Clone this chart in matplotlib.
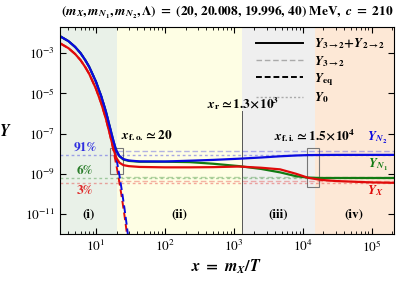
import numpy as np
import matplotlib

matplotlib.use("Agg")
import matplotlib.pyplot as plt
from matplotlib.lines import Line2D
from matplotlib.patches import Rectangle

plt.rcParams["mathtext.fontset"] = "cm"
plt.rcParams["font.family"] = "STIXGeneral"

# early-time x grid (equilibrium part), log10 of Y
x_eq = [3, 4, 5, 6, 7, 8, 10, 12, 14, 16, 18, 20, 22, 24, 26, 28, 30]
logY_eq_N2 = [-2.15, -2.40, -2.69, -3.00, -3.34, -3.68, -4.41, -5.16, -5.92,
              -6.71, -7.50, -8.30, -9.10, -9.92, -10.73, -11.55, -12.38]
logY_eq_X = [-2.50, -2.75, -3.04, -3.35, -3.69, -4.03, -4.76, -5.51, -6.27,
             -7.06, -7.85, -8.65, -9.45, -10.27, -11.08, -11.90, -12.73]

# full solutions
x_sol = [3, 4, 5, 6, 7, 8, 10, 12, 14, 16, 17, 18, 19, 20, 22, 25, 30, 43,
         100, 230, 500, 1200, 2500, 4700, 8000, 1.2e4, 1.8e4, 3e4, 1e5, 2.1e5]
logY_N2 = [-2.15, -2.40, -2.69, -3.00, -3.34, -3.68, -4.41, -5.16, -5.92,
           -6.70, -7.05, -7.38, -7.66, -7.88, -8.12, -8.27, -8.34, -8.385,
           -8.39, -8.35, -8.31, -8.25, -8.19, -8.13, -8.09, -8.07, -8.065,
           -8.06, -8.06, -8.06]
logY_X = [-2.50, -2.75, -3.04, -3.35, -3.69, -4.03, -4.76, -5.51, -6.27,
          -7.05, -7.42, -7.76, -8.04, -8.24, -8.45, -8.57, -8.62, -8.66,
          -8.68, -8.68, -8.67, -8.64, -8.70, -8.78, -9.00, -9.20, -9.30,
          -9.36, -9.43, -9.45]
logY_N1 = [-2.15, -2.40, -2.69, -3.00, -3.34, -3.68, -4.41, -5.16, -5.92,
           -6.70, -7.05, -7.38, -7.66, -7.88, -8.13, -8.29, -8.36, -8.40,
           -8.40, -8.42, -8.50, -8.62, -8.76, -8.93, -9.12, -9.19, -9.21,
           -9.21, -9.21, -9.21]

# asymptotic levels
logY32 = {"N2": -7.85, "N1": -9.15, "X": -9.35}
logY0 = {"N2": -8.05, "N1": -9.20, "X": -9.475}

x_fo, x_r, x_fi = 20, 1.3e3, 1.5e4
x_min, x_max = 3, 2.1e5

BLUE, RED, GREEN = "#0a0ae0", "#e00a0a", "#127a12"


def main():
    fig = plt.figure(figsize=(3.99, 2.82), dpi=100)
    ax = fig.add_axes([0.150, 0.170, 0.837, 0.734])

    # shaded regions
    ax.axvspan(x_min, x_fo, color="#e9f1e8", lw=0)
    ax.axvspan(x_fo, x_r, color="#fefee4", lw=0)
    ax.axvspan(x_r, x_fi, color="#efefef", lw=0)
    ax.axvspan(x_fi, x_max, color="#fde8d6", lw=0)
    ax.plot([x_r, x_r], [1e-12, 10 ** -5.9], color="#555555", lw=0.7)

    # Y0 (dotted) and Y_3->2 (dashed) levels
    for key, c in (("N2", BLUE), ("N1", GREEN), ("X", RED)):
        ax.plot([x_min, x_max], [10 ** logY0[key]] * 2, color=c, alpha=0.35,
                lw=1.0, ls=(0, (2, 2)))
        ax.plot([x_fo, x_max], [10 ** logY32[key]] * 2, color=c, alpha=0.3,
                lw=1.0, ls=(0, (4, 2)))

    # equilibrium
    ax.plot(x_eq, 10 ** np.array(logY_eq_X), color=RED, lw=1.4, ls=(0, (4, 2)))
    ax.plot(x_eq, 10 ** np.array(logY_eq_N2), color=BLUE, lw=1.4, ls=(0, (4, 2)))

    # full solutions
    ax.plot(x_sol, 10 ** np.array(logY_N1), color=GREEN, lw=1.6)
    ax.plot(x_sol, 10 ** np.array(logY_X), color=RED, lw=1.6)
    ax.plot(x_sol, 10 ** np.array(logY_N2), color=BLUE, lw=1.6)

    ax.add_patch(Rectangle((16, 1e-9), 8.5, 1.9e-8, fill=False,
                           ec="#777777", lw=0.8))
    ax.add_patch(Rectangle((1.15e4, 2.2e-10), 0.6e4, 2e-8 - 2.2e-10,
                           fill=False, ec="#777777", lw=0.8))

    ax.set_xscale("log")
    ax.set_yscale("log")
    ax.set_xlim(x_min, x_max)
    ax.set_ylim(1e-12, 10 ** -1.7)
    ax.set_yticks([1e-3, 1e-5, 1e-7, 1e-9, 1e-11])
    ax.yaxis.set_minor_locator(matplotlib.ticker.NullLocator())
    ax.tick_params(which="both", direction="in", top=True, right=True,
                   labelsize=9.5)
    ax.tick_params(which="major", length=4)
    ax.tick_params(which="minor", length=2)

    st = dict(math_fontfamily="stix")
    ax.set_xlabel(r"$\mathbfit{x}\ \mathbf{=}\ \mathbfit{m}_{\mathbfit{X}}\mathbf{/}\mathbfit{T}$",
                  fontsize=11.5, labelpad=2, **st)
    ax.set_ylabel(r"$\mathbfit{Y}$", fontsize=11.5, rotation=0, labelpad=14,
                  va="center", **st)
    ax.set_title(r"$\mathbf{(}\mathbfit{m}_{\mathbfit{X}}\mathbf{,}\,\mathbfit{m}_{\mathbfit{N}_\mathbf{1}}\mathbf{,}\,"
                 r"\mathbfit{m}_{\mathbfit{N}_\mathbf{2}}\mathbf{,}\,\mathbf{\Lambda)}\ \mathbf{=}\ "
                 r"\mathbf{(20,\,20.008,\,19.996,\,40)\ MeV,}\ \mathbfit{c}\ \mathbf{=}\ \mathbf{210}$",
                 fontsize=9.6, pad=8, **st)

    bold = dict(fontsize=9.5, fontweight="bold", ha="center", va="center")
    ax.text(6.9, 10 ** -7.7, "91%", color="#3030e0", **bold)
    ax.text(6.9, 10 ** -8.85, "6%", color="#2a7d2a", **bold)
    ax.text(6.9, 10 ** -9.85, "3%", color="#e02a2a", **bold)
    for xt, lab in ((7.7, "(i)"), (160, "(ii)"), (4.4e3, "(iii)"), (5.6e4, "(iv)")):
        ax.text(xt, 10 ** -11.05, lab, **bold)

    math = dict(fontsize=9.5, ha="center", va="center", **st)
    ax.text(55, 10 ** -7.1, r"$\mathbfit{x}_{\mathbf{f.o.}}\mathbf{\simeq 20}$", **math)
    ax.text(1.35e3, 10 ** -5.5, r"$\mathbfit{x}_{\mathbf{r}}\mathbf{\simeq 1.3\!\times\!10^3}$", **math)
    ax.text(1.5e4, 10 ** -7.1, r"$\mathbfit{x}_{\mathbf{f.i.}}\mathbf{\simeq 1.5\!\times\!10^4}$", **math)
    ax.text(1.2e5, 10 ** -7.2, r"$\mathbfit{Y}_{\mathbfit{N}_\mathbf{2}}$", color=BLUE, **math)
    ax.text(1.25e5, 10 ** -8.55, r"$\mathbfit{Y}_{\mathbfit{N}_\mathbf{1}}$", color=GREEN, **math)
    ax.text(1.15e5, 10 ** -9.85, r"$\mathbfit{Y}_{\mathbfit{X}}$", color=RED, **math)

    handles = [
        Line2D([], [], color="black", lw=1.4),
        Line2D([], [], color="#aaaaaa", lw=1.0, ls=(0, (4, 2))),
        Line2D([], [], color="black", lw=1.4, ls=(0, (3, 1.5))),
        Line2D([], [], color="#aaaaaa", lw=1.0, ls=(0, (1.5, 1.5))),
    ]
    labels = [
        r"$\mathbfit{Y}_{\mathbf{3\rightarrow2}}\mathbf{+}\mathbfit{Y}_{\mathbf{2\rightarrow2}}$",
        r"$\mathbfit{Y}_{\mathbf{3\rightarrow2}}$",
        r"$\mathbfit{Y}_{\mathbf{eq}}$",
        r"$\mathbfit{Y}_{\mathbf{0}}$",
    ]
    leg = ax.legend(handles, labels, loc="upper right", frameon=False,
                    fontsize=9.5, handlelength=3.6, labelspacing=0.2,
                    borderaxespad=0.3)
    for t in leg.get_texts():
        t.set_math_fontfamily("stix")

    fig.savefig("out.png", dpi=100)


if __name__ == "__main__":
    main()
